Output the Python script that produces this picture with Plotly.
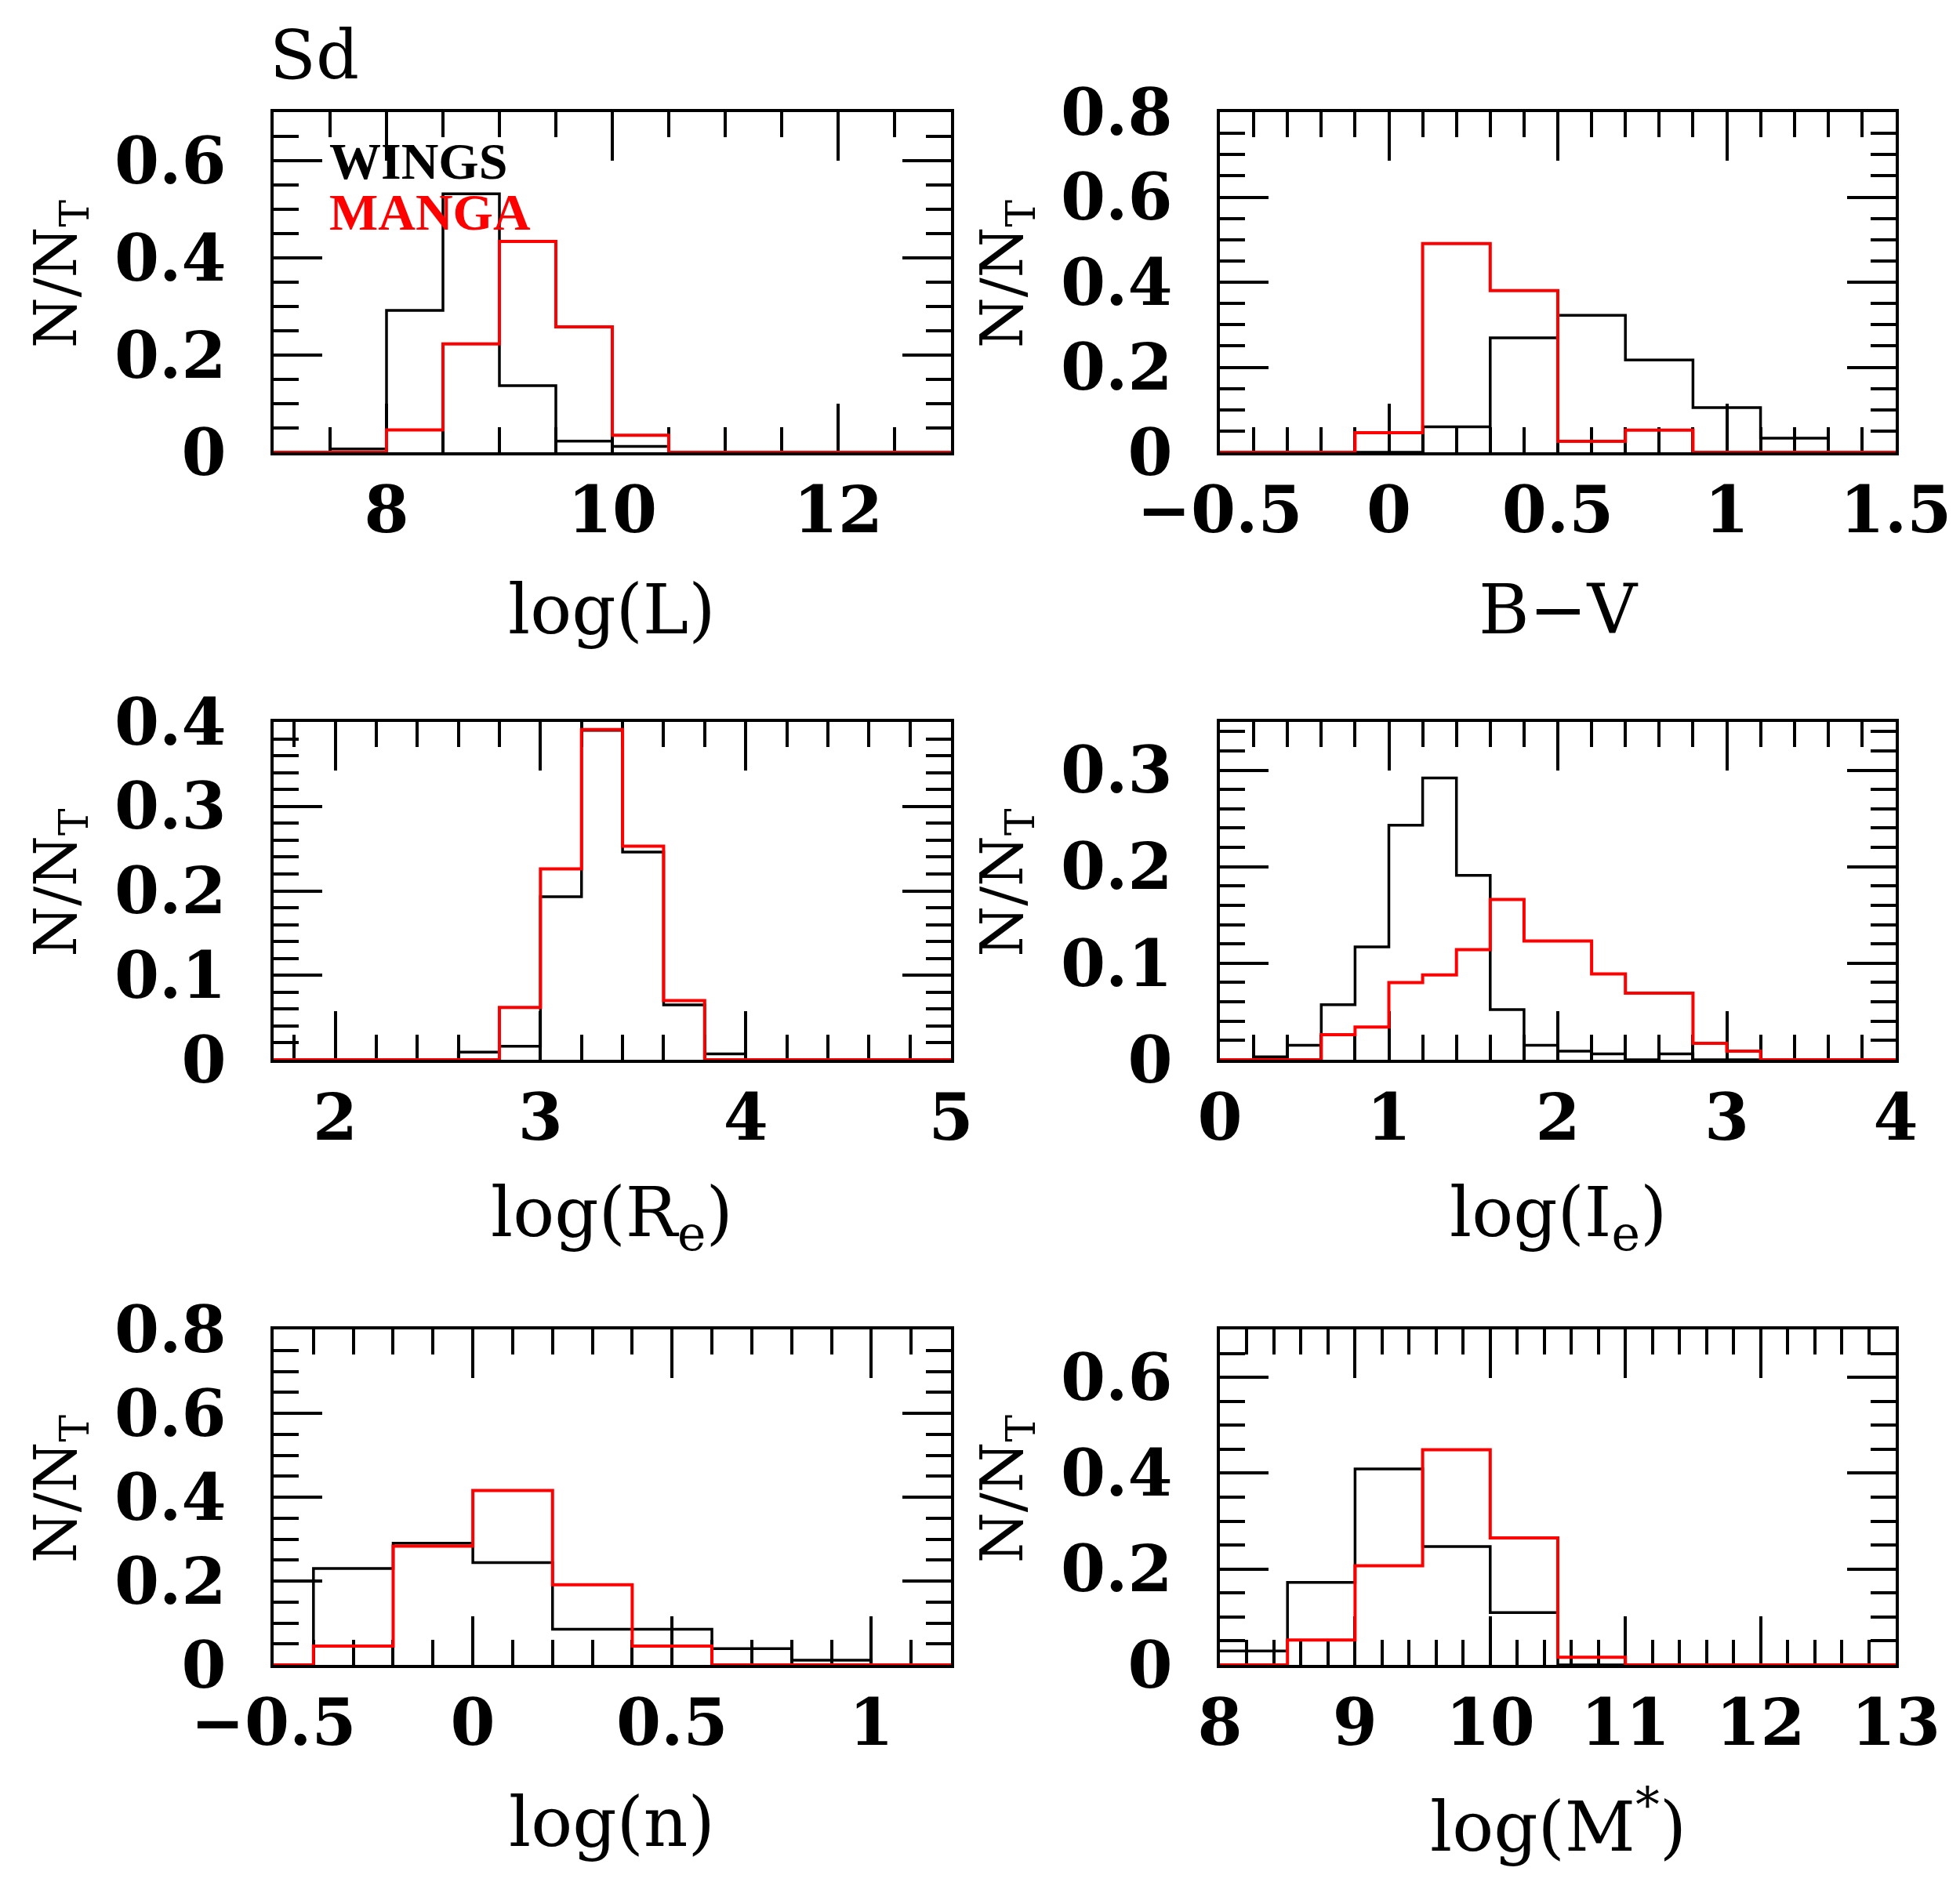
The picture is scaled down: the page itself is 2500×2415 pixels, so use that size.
import plotly.graph_objects as go

# N/N_T per bin for Sd galaxies, WINGS (black) vs MANGA (red)
logL_edges = [7.0, 7.5, 8.0, 8.5, 9.0, 9.5, 10.0, 10.5, 11.0, 11.5, 12.0, 12.5, 13.0]
logL_wings = [0, 0.007, 0.292, 0.532, 0.137, 0.023, 0.012, 0, 0, 0, 0, 0]
logL_manga = [0, 0, 0.046, 0.223, 0.434, 0.258, 0.035, 0, 0, 0, 0, 0]

bv_edges = [-0.5, -0.3, -0.1, 0.1, 0.3, 0.5, 0.7, 0.9, 1.1, 1.3, 1.5]
bv_wings = [0, 0, 0, 0.06, 0.269, 0.322, 0.217, 0.105, 0.033, 0]
bv_manga = [0, 0, 0.046, 0.491, 0.38, 0.026, 0.052, 0, 0, 0]

re_edges = [1.6, 1.8, 2.0, 2.2, 2.4, 2.6, 2.8, 3.0, 3.2, 3.4, 3.6, 3.8, 4.0, 4.2, 4.4, 4.6, 4.8, 5.0]
re_wings = [0, 0, 0, 0, 0, 0.009, 0.016, 0.193, 0.39, 0.246, 0.065, 0.007, 0, 0, 0, 0, 0]
re_manga = [0, 0, 0, 0, 0, 0, 0.062, 0.226, 0.391, 0.253, 0.07, 0, 0, 0, 0, 0, 0]

ie_edges = [0.0, 0.2, 0.4, 0.6, 0.8, 1.0, 1.2, 1.4, 1.6, 1.8, 2.0, 2.2, 2.4, 2.6, 2.8, 3.0, 3.2, 3.4, 3.6, 3.8, 4.0]
ie_wings = [0, 0.003, 0.015, 0.057, 0.117, 0.243, 0.292, 0.191, 0.052, 0.015,
            0.009, 0.006, 0, 0.006, 0, 0, 0, 0, 0, 0]
ie_manga = [0, 0, 0, 0.026, 0.034, 0.08, 0.088, 0.114, 0.166, 0.123,
            0.123, 0.089, 0.069, 0.069, 0.017, 0.009, 0, 0, 0, 0]

n_edges = [-0.6, -0.4, -0.2, 0.0, 0.2, 0.4, 0.6, 0.8, 1.0, 1.2]
n_wings = [0, 0.23, 0.29, 0.244, 0.085, 0.085, 0.039, 0.011, 0]
n_manga = [0, 0.045, 0.283, 0.416, 0.191, 0.045, 0, 0, 0]

m_edges = [8.0, 8.5, 9.0, 9.5, 10.0, 10.5, 11.0, 11.5, 12.0, 12.5, 13.0]
m_wings = [0.029, 0.172, 0.409, 0.247, 0.109, 0, 0, 0, 0, 0]
m_manga = [0, 0.052, 0.207, 0.449, 0.265, 0.016, 0, 0, 0, 0]

W, H = 2500, 2415
FONT = "DejaVu Serif"

col_x = [(341, 1205), (1548, 2410)]
row_y = [(135, 569), (913, 1344), (1688, 2116)]

panels = [
    dict(edges=logL_edges, wings=logL_wings, manga=logL_manga, xr=[7, 13], xd=2, xm=0.5,
         yr=[0, 0.7], yd=0.2, ym=0.05, title="log(L)"),
    dict(edges=bv_edges, wings=bv_wings, manga=bv_manga, xr=[-0.5, 1.5], xd=0.5, xm=0.1,
         yr=[0, 0.8], yd=0.2, ym=0.05, title="B\u2212V"),
    dict(edges=re_edges, wings=re_wings, manga=re_manga, xr=[1.7, 5], xd=1, xm=0.2,
         yr=[0, 0.4], yd=0.1, ym=0.02, title="log(R<sub>e</sub>)"),
    dict(edges=ie_edges, wings=ie_wings, manga=ie_manga, xr=[0, 4], xd=1, xm=0.2,
         yr=[0, 0.35], yd=0.1, ym=0.02, title="log(I<sub>e</sub>)"),
    dict(edges=n_edges, wings=n_wings, manga=n_manga, xr=[-0.5, 1.2], xd=0.5, xm=0.1,
         yr=[0, 0.8], yd=0.2, ym=0.05, title="log(n)"),
    dict(edges=m_edges, wings=m_wings, manga=m_manga, xr=[8, 13], xd=1, xm=0.2,
         yr=[0, 0.7], yd=0.2, ym=0.05, title="log(M<sup>*</sup>)"),
]

fig = go.Figure()
annotations = []
layout = {}

for i, p in enumerate(panels):
    k = i + 1
    r, c = divmod(i, 2)
    x0, x1 = col_x[c]
    y0, y1 = row_y[r]
    xname = "x" if k == 1 else f"x{k}"
    yname = "y" if k == 1 else f"y{k}"

    for vals, color, width in [(p["wings"], "black", 3.5), (p["manga"], "#ff0000", 4)]:
        fig.add_trace(go.Scatter(
            x=p["edges"], y=list(vals) + [vals[-1]],
            mode="lines", line=dict(color=color, width=width, shape="hv"),
            xaxis=xname, yaxis=yname, showlegend=False, hoverinfo="skip"))

    common = dict(showline=True, linewidth=4, linecolor="black", mirror="allticks",
                  ticks="inside", ticklen=62, tickwidth=4, tickcolor="black",
                  showgrid=False, zeroline=False, layer="below traces", automargin=False,
                  tickfont=dict(family=FONT, size=82, color="black", weight="bold"))
    layout[f"xaxis{k}"] = dict(common, domain=[x0 / W, x1 / W], range=p["xr"],
                               anchor=yname, tick0=0, dtick=p["xd"], ticklabelstandoff=0,
                               minor=dict(ticks="inside", ticklen=32, tickwidth=4,
                                          tickcolor="black", tick0=0, dtick=p["xm"]))
    layout[f"yaxis{k}"] = dict(common, domain=[1 - y1 / H, 1 - y0 / H], range=p["yr"],
                               anchor=xname, tick0=0, dtick=p["yd"], ticklabelstandoff=40,
                               minor=dict(ticks="inside", ticklen=32, tickwidth=4,
                                          tickcolor="black", tick0=0, dtick=p["ym"]))

    # x-axis title
    annotations.append(dict(x=(x0 + x1) / 2 / W, y=1 - (y1 + 200) / H, xref="paper", yref="paper",
                            text=p["title"], showarrow=False, xanchor="center", yanchor="middle",
                            font=dict(family=FONT, size=88, color="black")))
    # y-axis title
    annotations.append(dict(x=(x0 - 273) / W, y=1 - ((y0 + y1) / 2 - 10) / H, xref="paper",
                            yref="paper", text="N/N<sub>T</sub>", showarrow=False, textangle=-90,
                            xanchor="center", yanchor="middle",
                            font=dict(family=FONT, size=74, color="black")))

annotations.append(dict(x=334 / W, y=1 - 62 / H, xref="paper", yref="paper", text="Sd",
                        showarrow=False, xanchor="left", yanchor="middle",
                        font=dict(family=FONT, size=86, color="black")))
annotations.append(dict(x=410 / W, y=1 - 198 / H, xref="paper", yref="paper", text="<b>WINGS</b>",
                        showarrow=False, xanchor="left", yanchor="middle",
                        font=dict(family="Liberation Serif", size=66, color="black")))
annotations.append(dict(x=410 / W, y=1 - 262 / H, xref="paper", yref="paper", text="<b>MANGA</b>",
                        showarrow=False, xanchor="left", yanchor="middle",
                        font=dict(family="Liberation Serif", size=66, color="#ff0000")))

fig.update_layout(
    width=W, height=H,
    margin=dict(l=0, r=0, t=0, b=0, autoexpand=False),
    plot_bgcolor="white", paper_bgcolor="white",
    showlegend=False,
    annotations=annotations,
    **layout,
)

fig.write_html("out.html")
